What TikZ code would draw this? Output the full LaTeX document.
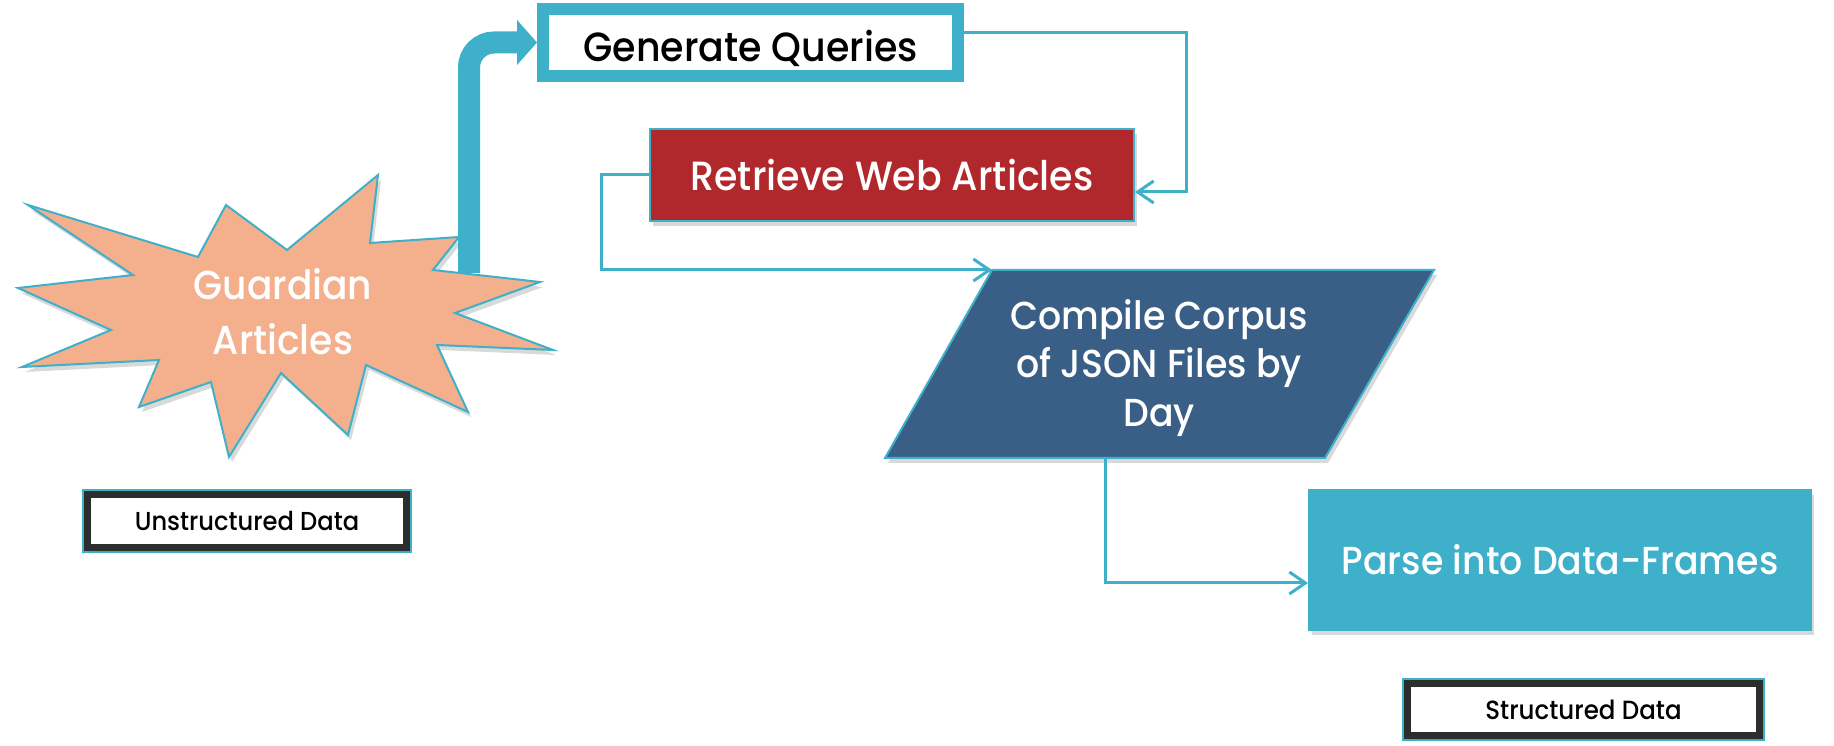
\documentclass[tikz,border=0pt]{standalone}
\usepackage{fontspec}
\setmainfont{Poppins}[FakeStretch=0.93, UprightFont={* Medium}]
\usepackage{xcolor}
\usetikzlibrary{positioning}
\usetikzlibrary{arrows.meta}
\usetikzlibrary{shadows}

\definecolor{qteal}{RGB}{63,176,201}
\definecolor{qred}{RGB}{176,40,44}
\definecolor{qblue}{RGB}{58,95,134}
\definecolor{qsalmon}{RGB}{244,176,140}
\definecolor{qdark}{RGB}{45,45,45}

\begin{document}
\begin{tikzpicture}[
  shade/.style={drop shadow={shadow xshift=0.03cm, shadow yshift=-0.05cm, opacity=0.3}},
  conn/.style={qteal, line width=0.03cm, -{Straight Barb[length=1.6mm,width=2.2mm]}},
  bigarrow/.style={qteal, line width=0.22cm, rounded corners=0.25cm, -{Triangle[length=2mm,width=4.4mm]}},
  tag/.style={draw=qdark, line width=0.07cm, preaction={draw=qteal, line width=0.11cm}, fill=white, shade, inner sep=0},
  txt/.style={text=white, align=center}
]
\useasboundingbox (0,0) rectangle (18.34,-7.46);

% the star
\draw[qteal, line width=0.02cm, fill=qsalmon, shade] (0.28,-2.05)--(1.98,-2.57)--(2.26,-2.05)--(2.87,-2.50)--(3.78,-1.75)--(3.70,-2.43)--(4.59,-2.37)--(4.33,-2.70)--(5.40,-2.82)--(4.55,-3.13)--(5.53,-3.50)--(4.37,-3.45)--(4.68,-4.12)--(3.66,-3.65)--(3.48,-4.35)--(2.81,-3.73)--(2.29,-4.57)--(2.11,-3.82)--(1.39,-4.07)--(1.59,-3.60)--(0.22,-3.67)--(1.11,-3.30)--(0.18,-2.88)--(1.33,-2.75)--cycle;
\node[txt, font=\fontsize{11.5}{15.6}\selectfont] (guard) at (2.83,-3.12) {Guardian\\Articles};
\coordinate (launch) at (4.69,-2.73);

% the steps
\node[draw=qteal, line width=0.12cm, fill=white, shade, minimum width=4.15cm, minimum height=0.67cm, inner sep=0, text height=0.39cm, text depth=0cm, font=\fontsize{11.6}{14}\selectfont] (gq) at (7.505,-0.425) {Generate Queries};
\node[draw=qteal, line width=0.02cm, fill=qred, shade, minimum width=4.84cm, minimum height=0.92cm, inner sep=0, txt, font=\fontsize{11.6}{14}\selectfont] (retr) at (8.92,-1.75) {Retrieve Web Articles};

\coordinate (ctl) at (9.92,-2.70);
\coordinate (ctr) at (14.34,-2.70);
\coordinate (cbr) at (13.25,-4.58);
\coordinate (cbl) at (8.85,-4.58);
\coordinate (cbot) at (11.05,-4.58);
\draw[qteal, line width=0.02cm, fill=qblue, shade] (ctl)--(ctr)--(cbr)--(cbl)--cycle;
\node[txt, font=\fontsize{11.1}{13.9}\selectfont] (compile) at (11.59,-3.68) {Compile Corpus\\of JSON Files by\\Day};

\node[draw=qteal, line width=0.02cm, fill=qteal, shade, minimum width=5.02cm, minimum height=1.40cm, inner sep=0, txt, font=\fontsize{11.1}{14}\selectfont] (parse) at (15.60,-5.60) {Parse into Data-Frames};

% the tags
\node[tag, minimum width=3.19cm, minimum height=0.53cm, font=\fontsize{7.4}{10}\selectfont] (unstr) at (2.47,-5.21) {Unstructured Data};
\node[tag, minimum width=3.52cm, minimum height=0.52cm, font=\fontsize{7.5}{9}\selectfont] (str) at (15.835,-7.095) {Structured Data};

% arrows
\draw[bigarrow] (launch) |- (gq.west);
\draw[conn] ([yshift=0.1cm]gq.east) -- ++(2.22,0) |- ([yshift=-0.17cm]retr.east);
\draw[conn] (retr.west) -- ++(-0.48,0) |- (ctl);
\draw[conn] (cbot) |- ([yshift=-0.23cm]parse.west);

\end{tikzpicture}
\end{document}
